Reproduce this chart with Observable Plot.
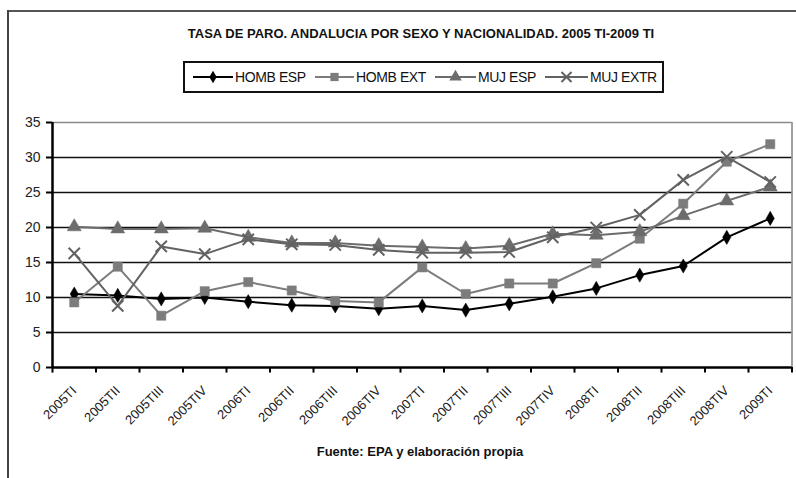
<!DOCTYPE html>
<html>
<head>
<meta charset="utf-8">
<script src="https://cdn.jsdelivr.net/npm/d3@7"></script>
<script src="https://cdn.jsdelivr.net/npm/@observablehq/plot@0.6"></script>
<style>
  body { margin: 0; background: #fff; font-family: "Liberation Sans", Arial, sans-serif; }
  #wrap { position: relative; width: 796px; height: 478px; overflow: hidden; background: #fff; }
  .abs { position: absolute; }
  #title { top: 26px; left: 0; width: 842px; text-align: center; font-weight: bold; font-size: 13px; color: #111; white-space: nowrap; }
  #legend { top: 61px; left: 183px; width: 477px; height: 28px; border: 2px solid #111; }
  .item { position: absolute; top: 0; height: 28px; display: flex; align-items: center; font-size: 14px; color: #111; white-space: nowrap; letter-spacing: -0.4px; }
  #caption { top: 444px; left: 0; width: 840px; text-align: center; font-weight: bold; font-size: 13px; color: #111; }
  #frameTop { top: 10px; left: 7px; width: 800px; height: 2px; background: #555; z-index: 5; }
  #frameLeft { top: 10px; left: 7px; width: 2px; height: 480px; background: #444; z-index: 5; }
  #chart { top: 100px; left: 0; }
</style>
</head>
<body>
<div id="wrap">
  <div id="frameTop" class="abs"></div>
  <div id="frameLeft" class="abs"></div>
  <div id="title" class="abs">TASA DE PARO. ANDALUCIA POR SEXO Y NACIONALIDAD. 2005 TI-2009 TI</div>
  <div id="legend" class="abs"></div>
  <div id="chart" class="abs"></div>
  <div id="caption" class="abs">Fuente: EPA y elaboración propia</div>
</div>
<script>
const categories = ["2005TI","2005TII","2005TIII","2005TIV","2006TI","2006TII","2006TIII","2006TIV","2007TI","2007TII","2007TIII","2007TIV","2008TI","2008TII","2008TIII","2008TIV","2009TI"];
const seriesNames = ["HOMB ESP","HOMB EXT","MUJ ESP","MUJ EXTR"];
const hombEsp = [10.5,10.3,9.8,10.0,9.4,8.9,8.8,8.4,8.8,8.2,9.1,10.1,11.3,13.2,14.5,18.6,21.3];
const hombExt = [9.3,14.4,7.4,10.9,12.2,11.0,9.5,9.3,14.3,10.5,12.0,12.0,14.9,18.4,23.4,29.4,31.9];
const mujEsp = [20.1,19.8,19.8,19.9,18.6,17.8,17.8,17.4,17.2,17.0,17.4,19.1,18.9,19.4,21.7,23.8,25.8];
const mujExtr = [16.3,8.8,17.3,16.2,18.3,17.6,17.5,16.8,16.4,16.4,16.5,18.6,20.0,21.8,26.8,30.1,26.5];
const yTicks = [0,5,10,15,20,25,30,35];

const styles = [
  {color: "#000000", symbol: "diamond", r: 4.3, fill: true},
  {color: "#7c7c7c", symbol: "square", r: 5.2, fill: true},
  {color: "#6c6c6c", symbol: "triangle", r: 5.2, fill: true},
  {color: "#626262", symbol: "times", r: 5.2, fill: false}
];
const allValues = [hombEsp, hombExt, mujEsp, mujExtr];

const marks = [];
// gridlines
marks.push(Plot.ruleY(yTicks.filter(v => v > 0 && v < 35), {stroke: "#111", strokeWidth: 1.6}));
marks.push(Plot.ruleY([35], {stroke: "#8a8a8a", strokeWidth: 1.6}));
marks.push(Plot.ruleX([categories.length], {stroke: "#8a8a8a", strokeWidth: 1.6}));
// axes
marks.push(Plot.axisY({ticks: yTicks, tickSize: 6, tickPadding: 6, fontSize: 14, stroke: "#000", strokeWidth: 2, color: "#222", label: null}));
marks.push(Plot.axisX(categories.map((c, i) => i + 0.5), {
  tickFormat: d => categories[Math.floor(d)], tickSize: 0, tickPadding: 21,
  tickRotate: -45, fontSize: 13, color: "#1a1a1a", label: null
}));
marks.push(Plot.ruleX(d3.range(0, categories.length + 1), {y1: 0, y2: -0.8, stroke: "#000", strokeWidth: 2}));
marks.push(Plot.ruleX([0], {stroke: "#000", strokeWidth: 2.5}));
marks.push(Plot.ruleY([0], {stroke: "#000", strokeWidth: 2.5}));

allValues.forEach((vals, s) => {
  const st = styles[s];
  const rows = vals.map((v, i) => ({x: i + 0.5, y: v, cat: categories[i]}));
  marks.push(Plot.line(rows, {x: "x", y: "y", stroke: st.color, strokeWidth: 2}));
  if (st.fill) {
    marks.push(Plot.dot(rows, {x: "x", y: "y", symbol: st.symbol, r: st.r, fill: st.color, stroke: st.color, strokeWidth: 0.5}));
  } else {
    marks.push(Plot.dot(rows, {x: "x", y: "y", symbol: st.symbol, r: st.r, stroke: st.color, strokeWidth: 2}));
  }
});

const chart = Plot.plot({
  width: 796,
  height: 340,
  marginTop: 22,
  marginBottom: 73,
  marginLeft: 52,
  marginRight: 4.5,
  style: {background: "transparent", fontFamily: "Liberation Sans, Arial, sans-serif", overflow: "visible"},
  x: {type: "linear", domain: [0, categories.length], axis: null},
  y: {domain: [0, 35], axis: null},
  marks
});
document.getElementById("chart").appendChild(chart);

// legend
const legendPos = [[8, 50], [130, 171], [250, 293], [360, 405]];
const legend = document.getElementById("legend");
seriesNames.forEach((name, s) => {
  const st = styles[s];
  const item = document.createElement("div");
  item.className = "item";
  item.style.left = legendPos[s][0] + "px";
  const w = legendPos[s][1] - legendPos[s][0] - 2;
  const svg = d3.create("svg").attr("width", w).attr("height", 14).style("margin-right", "2px");
  svg.append("line").attr("x1", 0).attr("x2", w).attr("y1", 7).attr("y2", 7).attr("stroke", st.color).attr("stroke-width", 2);
  const sym = {diamond: d3.symbolDiamond, square: d3.symbolSquare, triangle: d3.symbolTriangle, times: d3.symbolTimes}[st.symbol];
  const p = svg.append("path").attr("transform", `translate(${w/2},7)`).attr("d", d3.symbol(sym, st.r * st.r * Math.PI * 0.8)());
  if (st.fill) p.attr("fill", st.color); else p.attr("fill", "none").attr("stroke", st.color).attr("stroke-width", 2);
  item.appendChild(svg.node());
  const span = document.createElement("span");
  span.textContent = name;
  item.appendChild(span);
  legend.appendChild(item);
});
</script>
</body>
</html>
